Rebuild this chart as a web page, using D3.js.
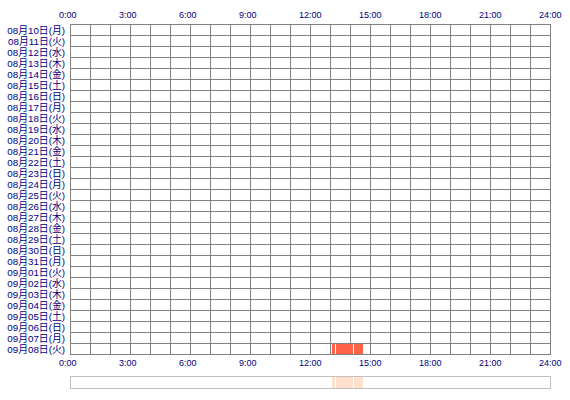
<!DOCTYPE html>
<html><head><meta charset="utf-8">
<script src="https://cdn.jsdelivr.net/npm/d3@7"></script>
<style>body{margin:0;background:#fff}svg{display:block}</style>
</head><body><svg id="c" width="570" height="400"></svg>
<script>
const days = ["08月10日(月)","08月11日(火)","08月12日(水)","08月13日(木)","08月14日(金)","08月15日(土)","08月16日(日)","08月17日(月)","08月18日(火)","08月19日(水)","08月20日(木)","08月21日(金)","08月22日(土)","08月23日(日)","08月24日(月)","08月25日(火)","08月26日(水)","08月27日(木)","08月28日(金)","08月29日(土)","08月30日(日)","08月31日(月)","09月01日(火)","09月02日(水)","09月03日(木)","09月04日(金)","09月05日(土)","09月06日(日)","09月07日(月)","09月08日(火)"];
const tickHours = [0,3,6,9,12,15,18,21,24];
const tickLabels = ["0:00","3:00","6:00","9:00","12:00","15:00","18:00","21:00","24:00"];
// activity segments: day, start hour, end hour
const segDay = ["09月08日(火)","09月08日(火)","09月08日(火)"];
const segStart = [13+5/60, 13+18/60, 14+13/60];
const segEnd = [13+15/60, 14+10/60, 14+40/60];

const svg = d3.select("#c");
const x = d3.scaleLinear().domain([0,24]).range([70,550]);
const y = d3.scaleBand().domain(days).range([24,354]);
const font = "'Liberation Sans', 'Noto Sans CJK JP', sans-serif";

// grid
const g = svg.append("g").attr("shape-rendering","crispEdges").attr("stroke","#808080").attr("stroke-width",1);
g.selectAll("line.v").data(d3.range(0,25)).join("line")
  .attr("x1",d=>Math.round(x(d))+0.5).attr("x2",d=>Math.round(x(d))+0.5)
  .attr("y1",24).attr("y2",354.5);
g.selectAll("line.h").data(d3.range(0,days.length+1)).join("line")
  .attr("x1",70).attr("x2",551)
  .attr("y1",d=>24+d*y.step()+0.5).attr("y2",d=>24+d*y.step()+0.5);

// bars
const segs = segDay.map((d,i)=>({d,s:segStart[i],e:segEnd[i]}));
svg.selectAll("rect.bar").data(segs).join("rect")
  .attr("x",d=>x(d.s)).attr("width",d=>x(d.e)-x(d.s))
  .attr("y",d=>y(d.d)+1).attr("height",y.step()-1)
  .attr("fill","#ff6347").attr("shape-rendering","crispEdges");

// day labels
svg.selectAll("text.day").data(days).join("text")
  .attr("x",65).attr("y",d=>y(d)+9.5)
  .attr("text-anchor","end").attr("font-family",font).attr("font-size",9.8)
  .attr("fill","#000080").text(d=>d);

// hour labels top & bottom
[18,366].forEach(yy=>{
  svg.append("g").selectAll("text").data(tickHours).join("text")
    .attr("x",d=>x(d)-11).attr("y",yy)
    .attr("font-family","'Liberation Sans', sans-serif").attr("font-size",9)
    .attr("fill","#000080").text((d,i)=>tickLabels[i]);
});

// overview strip
svg.selectAll("rect.ov").data(segs).join("rect")
  .attr("x",d=>x(d.s)).attr("width",d=>x(d.e)-x(d.s))
  .attr("y",377).attr("height",11).attr("fill","#ffe0cc").attr("shape-rendering","crispEdges");
svg.append("rect").attr("x",70.5).attr("y",376.5).attr("width",480).attr("height",11.5)
  .attr("fill","none").attr("stroke","#c0c0c0").attr("shape-rendering","crispEdges");
</script></body></html>
